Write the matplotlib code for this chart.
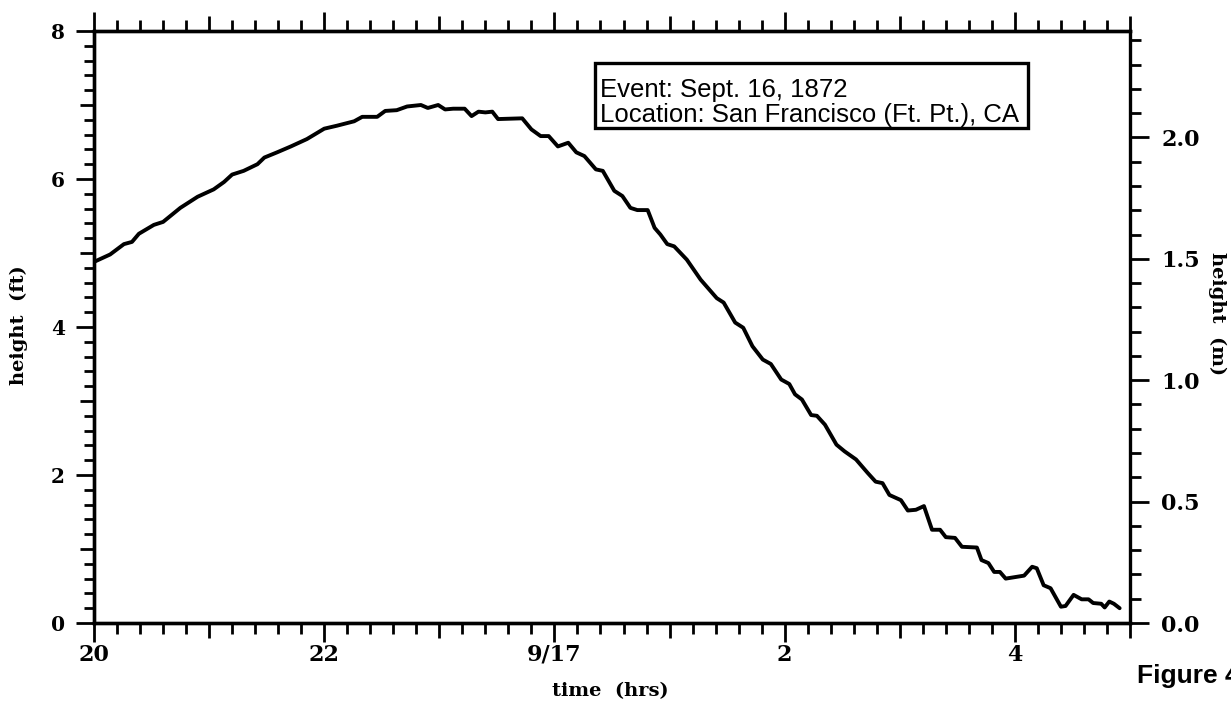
import numpy as np
import matplotlib
matplotlib.use("Agg")
import matplotlib.pyplot as plt
from matplotlib.patches import Rectangle
from matplotlib.ticker import FixedLocator, FuncFormatter, MultipleLocator

# Tide record, hours counted from 20:00 on Sept. 16 (24 = midnight, 9/17)
hours = [
    20.00, 20.14, 20.26, 20.33, 20.39, 20.52, 20.60, 20.75, 20.90, 21.04,
    21.13, 21.20, 21.30, 21.42, 21.48, 21.59, 21.71, 21.85, 22.00, 22.11,
    22.26, 22.33, 22.46, 22.53, 22.63, 22.72, 22.84, 22.90, 22.99, 23.05,
    23.12, 23.22, 23.28, 23.34, 23.40, 23.46, 23.51, 23.72, 23.80, 23.88,
    23.95, 24.03, 24.12, 24.19, 24.26, 24.36, 24.42, 24.52, 24.59, 24.66,
    24.72, 24.81, 24.87, 24.92, 24.98, 25.04, 25.15, 25.27, 25.41, 25.47,
    25.57, 25.64, 25.72, 25.81, 25.88, 25.97, 26.04, 26.09, 26.15, 26.23,
    26.28, 26.35, 26.45, 26.52, 26.62, 26.72, 26.79, 26.85, 26.91, 27.01,
    27.07, 27.14, 27.21, 27.28, 27.35, 27.40, 27.48, 27.54, 27.67, 27.71,
    27.77, 27.82, 27.87, 27.92, 28.08, 28.15, 28.19, 28.25, 28.31, 28.40,
    28.44, 28.51, 28.58, 28.64, 28.68, 28.75, 28.78, 28.82, 28.86, 28.91,
]
height_ft = [
    4.88, 4.98, 5.12, 5.15, 5.26, 5.38, 5.42, 5.61, 5.76, 5.86,
    5.96, 6.06, 6.11, 6.20, 6.29, 6.36, 6.44, 6.54, 6.68, 6.72,
    6.78, 6.84, 6.84, 6.92, 6.93, 6.98, 7.00, 6.96, 7.00, 6.94,
    6.95, 6.95, 6.85, 6.91, 6.90, 6.91, 6.81, 6.82, 6.67, 6.58,
    6.58, 6.44, 6.49, 6.36, 6.31, 6.13, 6.11, 5.84, 5.77, 5.61,
    5.58, 5.58, 5.34, 5.25, 5.12, 5.09, 4.91, 4.64, 4.39, 4.33,
    4.06, 3.99, 3.74, 3.56, 3.50, 3.29, 3.23, 3.09, 3.02, 2.81,
    2.80, 2.68, 2.41, 2.32, 2.21, 2.03, 1.91, 1.89, 1.73, 1.66,
    1.52, 1.53, 1.58, 1.26, 1.26, 1.16, 1.15, 1.03, 1.02, 0.85,
    0.81, 0.69, 0.69, 0.60, 0.64, 0.76, 0.74, 0.51, 0.47, 0.22,
    0.23, 0.38, 0.32, 0.32, 0.27, 0.26, 0.21, 0.29, 0.26, 0.20,
]

time_ticks = [20, 22, 24, 26, 28]
time_labels = ["20", "22", "9/17", "2", "4"]
ft_ticks = [0, 2, 4, 6, 8]
m_ticks = [0.0, 0.5, 1.0, 1.5, 2.0]
event_lines = ["Event: Sept. 16, 1872", "Location: San Francisco (Ft. Pt.), CA"]
FT_PER_M = 3.28084

plt.rcParams["font.family"] = "DejaVu Serif"
plt.rcParams["font.weight"] = "bold"

W, H = 1231, 705
fig = plt.figure(figsize=(W / 100, H / 100), dpi=100)


def fx(px):
    return px / W


def fy(py):
    return 1 - py / H


ax = fig.add_axes([fx(94), fy(623), fx(1130) - fx(94), fy(31) - fy(623)])
ax.plot(hours, height_ft, color="black", lw=2.8,
        solid_joinstyle="round", solid_capstyle="round")
ax.set_xlim(20, 29)
ax.set_ylim(0, 8)

for s in ax.spines.values():
    s.set_linewidth(2.4)
ax.spines["right"].set_visible(False)

# time axis: a tick every hour, labels on even hours, small ticks every 12 min
time_lab = dict(zip(time_ticks, time_labels))
ax.xaxis.set_major_locator(FixedLocator(np.arange(20, 30)))
ax.xaxis.set_major_formatter(
    FuncFormatter(lambda v, p: time_lab.get(int(round(v)), "")))
ax.xaxis.set_minor_locator(MultipleLocator(0.2))
ax.tick_params(axis="x", which="both", direction="out", top=True,
               bottom=True, labeltop=False, width=2.0)
ax.tick_params(axis="x", which="major", length=14, pad=1, labelsize=16)
ax.tick_params(axis="x", which="minor", length=8)

# feet axis
ft_set = set(ft_ticks)
ax.yaxis.set_major_locator(FixedLocator(np.arange(0, 9)))
ax.yaxis.set_major_formatter(
    FuncFormatter(lambda v, p: f"{int(round(v))}" if int(round(v)) in ft_set else ""))
ax.yaxis.set_minor_locator(MultipleLocator(0.2))
ax.tick_params(axis="y", which="both", direction="out", left=True,
               right=False, width=2.0)
ax.tick_params(axis="y", which="major", length=13, pad=8, labelsize=14.5)
ax.tick_params(axis="y", which="minor", length=7.5)

# metres axis
ax2 = ax.twinx()
ax2.set_ylim(0, 8 / FT_PER_M)
for s in ax2.spines.values():
    s.set_linewidth(2.4)
ax2.yaxis.set_major_locator(FixedLocator(m_ticks))
ax2.yaxis.set_major_formatter(FuncFormatter(lambda v, p: f"{v:.1f}"))
ax2.yaxis.set_minor_locator(MultipleLocator(0.1))
ax2.tick_params(axis="y", which="both", direction="out", width=2.0)
ax2.tick_params(axis="y", which="major", length=14, pad=8.5, labelsize=16)
ax2.tick_params(axis="y", which="minor", length=8)

# odd hours / odd feet get mid-length ticks
fig.canvas.draw()
for tick, loc in zip(ax.xaxis.get_major_ticks(), ax.xaxis.get_majorticklocs()):
    if int(round(loc)) % 2 == 1:
        tick.tick1line.set_markersize(11)
        tick.tick2line.set_markersize(11)
for tick, loc in zip(ax.yaxis.get_major_ticks(), ax.yaxis.get_majorticklocs()):
    if int(round(loc)) % 2 == 1:
        tick.tick1line.set_markersize(10)

# axis titles
fig.text(fx(19), fy(325), "height  (ft)", rotation=90, ha="center",
         va="center", fontsize=14)
fig.text(fx(1217), fy(314), "height  (m)", rotation=270, ha="center",
         va="center", fontsize=14)
fig.text(fx(610), fy(691), "time  (hrs)", ha="center", va="center",
         fontsize=14)

# event box
box = Rectangle((fx(595), fy(128)), fx(1028) - fx(595), fy(63) - fy(128),
                transform=fig.transFigure, facecolor="white",
                edgecolor="black", lw=2.4, zorder=5)
fig.add_artist(box)
for line, base in zip(event_lines, [97, 122]):
    fig.text(fx(600), fy(base), line, family="Liberation Sans",
             weight="normal", fontsize=18.5, ha="left", va="baseline",
             zorder=6)

fig.text(fx(1137), fy(683), "Figure 4", family="Liberation Sans",
         weight="bold", fontsize=19, ha="left", va="baseline")

fig.savefig("out.png", dpi=100)
